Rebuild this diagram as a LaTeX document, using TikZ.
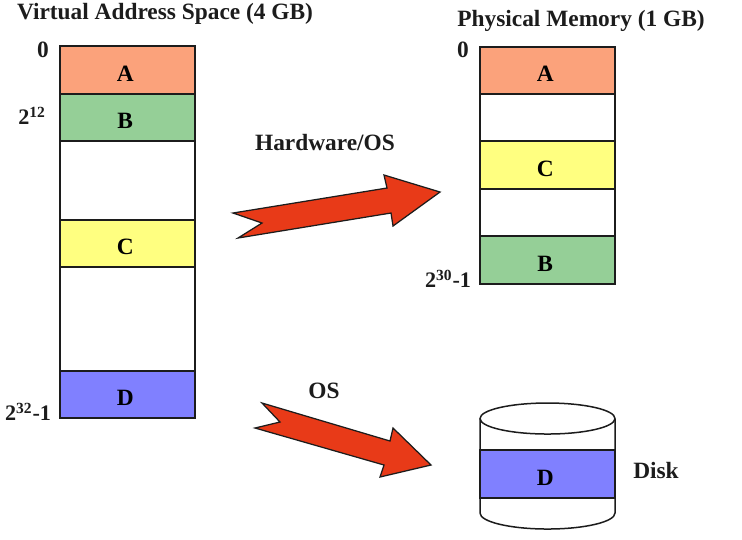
\documentclass[tikz,border=0pt]{standalone}
\usepackage{fontspec}
\setmainfont{Liberation Serif}
\definecolor{cellA}{HTML}{FBA27B}
\definecolor{cellB}{HTML}{95CF97}
\definecolor{cellC}{HTML}{FFFF80}
\definecolor{cellD}{HTML}{8080FF}
\definecolor{arrowred}{HTML}{E83A18}
\definecolor{inkgrey}{HTML}{1C1C1C}
\newcommand{\cellname}[1]{\hspace*{-0.09cm}#1}
\tikzset{
	memcell/.style={draw=inkgrey, line width=0.3mm, minimum width=2.7cm, inner sep=0pt, text height=13pt, text depth=0pt, font=\fontsize{13.3}{15}\selectfont\bfseries},
	memlabel/.style={text=inkgrey, font=\fontsize{13.3}{15}\selectfont\bfseries, inner sep=0pt},
	powlabel/.style={memlabel, font=\fontsize{12.6}{15}\selectfont\bfseries},
	bigarrow/.style={draw=inkgrey, line width=0.25mm, fill=arrowred, line join=miter}
}
\begin{document}
\begin{tikzpicture}[x=0.02cm, y=-0.02cm]
	%%%%% START %%%%%
	\useasboundingbox (0, 0) rectangle (742, 539);
	
	% virtual address space
	\node[memcell, fill=cellA, minimum height=0.96cm] (vA) at (127.5, 70) {\cellname{A}};
	\node[memcell, fill=cellB, minimum height=0.94cm] (vB) at (127.5, 117.5) {\cellname{B}};
	\node[memcell, fill=white, minimum height=1.58cm] (vE1) at (127.5, 180.5) {};
	\node[memcell, fill=cellC, minimum height=0.94cm] (vC) at (127.5, 243.5) {\cellname{C}};
	\node[memcell, fill=white, minimum height=2.08cm] (vE2) at (127.5, 319) {};
	\node[memcell, fill=cellD, minimum height=0.94cm] (vD) at (127.5, 394.5) {\cellname{D}};
	
	\node[memlabel] (vTitle) at (165, 13.5) {Virtual Address Space (4 GB)};
	\node[memlabel] (v0) at (43, 50) {0};
	\node[powlabel] (v12) at (32, 116) {2\textsuperscript{12}};
	\node[powlabel] (v32) at (28, 412) {2\textsuperscript{32}-1};
	
	% physical memory
	\node[memcell, fill=cellA, minimum height=0.94cm] (pA) at (547.5, 70.5) {\cellname{A}};
	\node[memcell, fill=white, minimum height=0.94cm] (pE1) at (547.5, 117.5) {};
	\node[memcell, fill=cellC, minimum height=0.96cm] (pC) at (547.5, 165) {\cellname{C}};
	\node[memcell, fill=white, minimum height=0.94cm] (pE2) at (547.5, 212.5) {};
	\node[memcell, fill=cellB, minimum height=0.96cm] (pB) at (547.5, 260) {\cellname{B}};
	
	\node[memlabel] (pTitle) at (581, 20.5) {Physical Memory (1 GB)};
	\node[memlabel] (p0) at (463, 50) {0};
	\node[powlabel] (p30) at (448, 279) {2\textsuperscript{30}-1};
	
	% arrows
	\draw[bigarrow] (233, 213) -- (387, 188) -- (384, 175) -- (440, 192) -- (393, 226) -- (391, 213) -- (238, 238) -- (262, 223) -- cycle;
	\draw[bigarrow] (262, 403) -- (390, 441) -- (393, 428) -- (431, 465) -- (380, 477) -- (384, 465) -- (255, 428) -- (280, 422) -- cycle;
	\node[memlabel] (hwLabel) at (325, 142) {Hardware/OS};
	\node[memlabel] (osLabel) at (324, 391) {OS};
	
	% disk
	\draw[draw=inkgrey, line width=0.3mm] (480, 419) -- (480, 513) arc[start angle=180, end angle=360, x radius=67.5, y radius=-16] -- (615, 419);
	\draw[draw=inkgrey, line width=0.3mm, fill=white] (547.5, 418.5) ellipse[x radius=67.5, y radius=15.5];
	\node[memcell, fill=cellD, minimum height=0.96cm] (dD) at (547.5, 474) {\cellname{D}};
	\node[memlabel] (diskLabel) at (656, 470) {Disk};
	%%%%% END %%%%%
\end{tikzpicture}
\end{document}
